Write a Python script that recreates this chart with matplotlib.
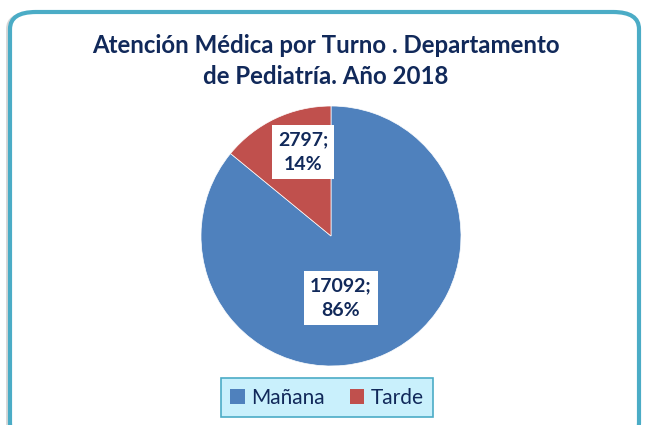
import matplotlib
matplotlib.use("Agg")
import matplotlib.pyplot as plt
from matplotlib.patches import FancyBboxPatch, Patch

categories = ["Mañana", "Tarde"]
values = [17092, 2797]
percent_labels = ["86%", "14%"]
colors = ["#4F81BD", "#C0504D"]
title = "Atención Médica por Turno . Departamento\nde Pediatría. Año 2018"

plt.rcParams['font.family'] = ['Lato', 'DejaVu Sans']
navy = "#11295A"

fig = plt.figure(figsize=(6.49, 4.25), dpi=100)
W, H = 649, 425

def fx(px): return px / W
def fy(py): return 1 - py / H

# shadow + rounded frame
shadow = FancyBboxPatch((fx(6), fy(440)), fx(630), 428 / H,
                        boxstyle="round,pad=0,rounding_size=0.04",
                        transform=fig.transFigure, facecolor="#BFBFBF",
                        edgecolor="none", alpha=0.6, zorder=0)
fig.patches.append(shadow)
frame = FancyBboxPatch((fx(10), fy(440)), fx(629), 428 / H,
                       boxstyle="round,pad=0,rounding_size=0.04",
                       transform=fig.transFigure, facecolor="white",
                       edgecolor="#4BACC6", linewidth=3, zorder=1)
fig.patches.append(frame)

fig.text(fx(326), fy(61), title, ha="center", va="center", fontsize=17.3,
         fontweight="bold", color=navy, linespacing=1.45, zorder=3)

ax = fig.add_axes([fx(201), fy(366), fx(260), 260 / H])
ax.set_zorder(2)
wedges, _ = ax.pie(values, colors=colors, startangle=90, counterclock=False,
                   wedgeprops=dict(linewidth=0.5, edgecolor="white"))
ax.set_aspect("equal")
ax.set_xlim(-1, 1)
ax.set_ylim(-1, 1)

label_pos = [(0.077, -0.477), (-0.215, 0.646)]
for (x, y), v, p in zip(label_pos, values, percent_labels):
    ax.text(x, y, f"{v};\n{p}", ha="center", va="center", fontsize=14,
            fontweight="bold", color=navy, linespacing=1.55,
            bbox=dict(boxstyle="square,pad=0.32", facecolor="white", edgecolor="none"))

handles = [Patch(facecolor=c, edgecolor="none") for c in colors]
leg = fig.legend(handles, categories, loc="center", bbox_to_anchor=(fx(327), fy(397.5)),
                 ncol=2, frameon=True, fontsize=15, handlelength=0.7,
                 handleheight=0.7, handletextpad=0.3, columnspacing=1.2,
                 borderpad=0.45, fancybox=False)
for t in leg.get_texts():
    t.set_color(navy)
fr = leg.get_frame()
fr.set_facecolor("#C9F0FC")
fr.set_edgecolor("#4BACC6")
fr.set_linewidth(1.2)
fr.set_alpha(1)

fig.savefig("out.png", dpi=100)
